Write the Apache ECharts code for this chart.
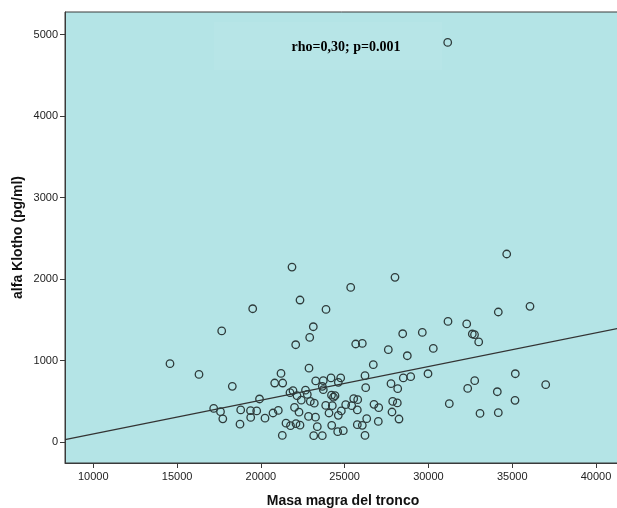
<!DOCTYPE html>
<html>
<head>
<meta charset="utf-8">
<script src="https://cdn.jsdelivr.net/npm/echarts@6/dist/echarts.min.js"></script>
<style>
html,body{margin:0;padding:0;background:#fff;}
#chart{width:617px;height:508px;}
</style>
</head>
<body>
<div id="chart"></div>
<script>
// Masa magra del tronco (x) and alfa Klotho pg/ml (y)
const masaMagra = [
  21858, 22336, 19513, 17663, 23130, 22915, 22079, 14577, 16308, 22873,
  21202, 18296, 20826, 21303, 23273, 19919, 17185, 17591, 17729, 18797,
  19382, 19752, 19394, 20247, 18755, 20724, 21041, 21500, 21769, 22097,
  22336, 21280, 22008, 22276, 21918, 21739, 22157, 22413, 22664, 22772,
  22951, 23189, 22843, 23261, 23368, 23153,
  34672, 28005, 25362, 23888, 34170, 36062, 31168, 32285, 29635, 28465,
  32619, 32750, 33001, 25660, 26054, 30291, 27606, 28740, 26710, 29975,
  35185, 26215, 28501, 28942, 24765, 24186, 23726, 24622, 27767, 32762,
  36999, 28167, 26257, 32344, 23667, 23726, 34111, 24216, 24335, 24425,
  23870, 24264, 25541, 25780, 25063, 25421, 26752, 27033, 27868, 28143,
  31246, 35167, 24067, 24801, 24622, 25756, 27826, 33079, 34170, 24228,
  25756, 26054, 26317, 27009, 28244, 24586, 24920, 23667, 26215, 31151
];
const alfaKlotho = [
  2148, 1743, 1636, 1363, 1415, 1284, 1194, 961, 830, 906,
  842, 683, 724, 724, 750, 528, 412, 372, 284, 393,
  384, 381, 301, 292, 219, 356, 387, 231, 200, 225,
  206, 80, 424, 366, 630, 605, 568, 513, 636, 584,
  498, 476, 314, 304, 188, 77,
  2308, 2021, 1898, 1628, 1596, 1665, 1480, 1449, 1345, 1329,
  1326, 1317, 1228, 1203, 1210, 1149, 1133, 1059, 949, 838,
  838, 814, 786, 802, 786, 786, 753, 732, 716, 753,
  703, 654, 667, 658, 683, 642, 617, 575, 550, 568,
  449, 446, 532, 519, 458, 446, 462, 421, 498, 479,
  470, 511, 356, 381, 327, 393, 368, 351, 360, 204,
  212, 204, 286, 253, 282, 126, 139, 77, 81, 4905
];
// Fitted line (intercept, slope)
const fitIntercept = -316;
const fitSlope = 0.04138;
const xRange = [8311, 41493];
const yRange = [-258, 5279];
const xTicks = [10000, 15000, 20000, 25000, 30000, 35000, 40000];
const yTicks = [0, 1000, 2000, 3000, 4000, 5000];
const annotation = 'rho=0,30; p=0.001';

const points = masaMagra.map((x, i) => [x, alfaKlotho[i]]);
const fitLine = xRange.map(x => [x, fitIntercept + fitSlope * x]);

const chart = echarts.init(document.getElementById('chart'), null, {renderer: 'canvas'});
const axisText = {color: '#222', fontFamily: 'Liberation Sans, Arial, sans-serif', fontSize: 11, formatter: v => String(v)};
chart.setOption({
  animation: false,
  backgroundColor: '#ffffff',
  grid: {
    left: 65, top: 12, width: 556, height: 451,
    outerBoundsMode: 'none', containLabel: false,
    show: true, backgroundColor: '#b4e4e6', borderColor: '#3a3a3a', borderWidth: 1
  },
  xAxis: {
    type: 'value', min: xRange[0], max: xRange[1],
    name: 'Masa magra del tronco', nameLocation: 'middle', nameGap: 31,
    nameTextStyle: {fontFamily: 'Liberation Sans, Arial, sans-serif', fontWeight: 'bold', fontSize: 14, color: '#111'},
    axisLine: {show: true, onZero: false, lineStyle: {color: '#3a3a3a', width: 1}},
    axisTick: {show: true, length: 5, customValues: xTicks, lineStyle: {color: '#3a3a3a'}},
    axisLabel: Object.assign({customValues: xTicks, margin: 8}, axisText),
    splitLine: {show: false}
  },
  yAxis: {
    type: 'value', min: yRange[0], max: yRange[1],
    name: 'alfa Klotho (pg/ml)', nameLocation: 'middle', nameGap: 40, nameMoveOverlap: false,
    nameTextStyle: {fontFamily: 'Liberation Sans, Arial, sans-serif', fontWeight: 'bold', fontSize: 14, color: '#111'},
    axisLine: {show: true, onZero: false, lineStyle: {color: '#3a3a3a', width: 1}},
    axisTick: {show: true, length: 5, customValues: yTicks, lineStyle: {color: '#3a3a3a'}},
    axisLabel: Object.assign({customValues: yTicks, margin: 7}, axisText),
    splitLine: {show: false}
  },
  graphic: [
    {type: 'rect', shape: {x: 214, y: 22, width: 228, height: 48}, style: {fill: 'rgba(255,255,255,0.05)'}, z: 0, silent: true},
    {type: 'text', x: 346, y: 47, style: {text: annotation, fill: '#000', font: 'bold 14px "Liberation Serif", "Times New Roman", serif', align: 'center', verticalAlign: 'middle'}, z: 10}
  ],
  series: [
    {
      type: 'line', data: fitLine, showSymbol: false, symbol: 'none',
      lineStyle: {color: '#333', width: 1.2}, z: 3, silent: true
    },
    {
      type: 'scatter', data: points, symbol: 'circle', symbolSize: 7.5,
      itemStyle: {color: 'rgba(0,0,0,0)', borderColor: '#2e3b3b', borderWidth: 1.3, opacity: 1},
      z: 4
    }
  ]
});
</script>
</body>
</html>
